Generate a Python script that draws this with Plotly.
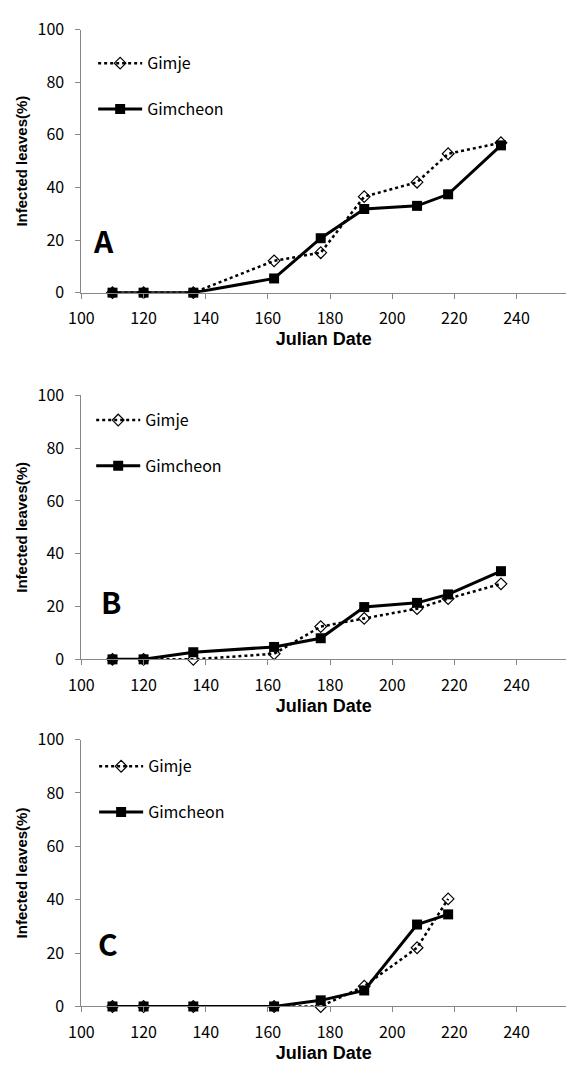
import plotly.graph_objects as go

# ---------------- data ----------------
days_ab = [110, 120, 136, 162, 177, 191, 208, 218, 235]
days_c = [110, 120, 136, 162, 177, 191, 208, 218]

gimje_a = [0, 0, 0, 12.1, 15.2, 36.5, 42.0, 52.8, 57.0]
gimcheon_a = [0, 0, 0, 5.4, 20.7, 31.8, 33.0, 37.4, 56.0]

gimje_b = [0, 0, 0, 2.1, 12.4, 15.5, 19.2, 23.0, 28.6]
gimcheon_b = [0, 0, 2.7, 4.7, 8.0, 19.8, 21.4, 24.6, 33.4]

gimje_c = [0, 0, 0, 0, 0, 7.6, 22.0, 40.3]
gimcheon_c = [0, 0, 0, 0, 2.3, 6.0, 30.7, 34.5]

panel_labels = ["A", "B", "C"]
x_ticks = [100, 120, 140, 160, 180, 200, 220, 240]
y_ticks = [0, 20, 40, 60, 80, 100]

# ---------------- layout helpers ----------------
W, H = 576, 1083
def py(px):
    return 1 - px / H

x_dom = [70 / W, 566 / W]
y_doms = [[py(286), py(17)], [py(661), py(391)], [py(1016), py(743)]]
legend_pos = [(82, 34), (80, 399), (83, 753)]
letter_pos = [(107, 20), (109.6, 22), (108.5, 23.7)]

TICK_FONT = dict(family="Noto Sans CJK KR, Noto Sans, sans-serif", size=16, color="black")
TITLE_FONT = dict(family="Liberation Sans, Arial, sans-serif", size=18, color="black", weight="bold")

panels = [
    (days_ab, gimje_a, gimcheon_a),
    (days_ab, gimje_b, gimcheon_b),
    (days_c, gimje_c, gimcheon_c),
]

fig = go.Figure()
layout = {}
annotations = []
for i, (xs, gj, gc) in enumerate(panels):
    n = i + 1
    xa = "x" if n == 1 else f"x{n}"
    ya = "y" if n == 1 else f"y{n}"
    lg = "legend" if n == 1 else f"legend{n}"
    fig.add_trace(go.Scatter(
        x=xs, y=gj, name="Gimje", mode="lines+markers",
        line=dict(color="black", width=2.5, dash="dot"),
        marker=dict(symbol="diamond-open", size=9, color="black", line=dict(width=1.2)),
        xaxis=xa, yaxis=ya, legend=lg, legendgroup=f"gj{n}", cliponaxis=False,
    ))
    fig.add_trace(go.Scatter(
        x=xs, y=gc, name="Gimcheon", mode="lines+markers",
        line=dict(color="black", width=3),
        marker=dict(symbol="square", size=10, color="black"),
        xaxis=xa, yaxis=ya, legend=lg, legendgroup=f"gc{n}", cliponaxis=False,
    ))
    xkey = "xaxis" if n == 1 else f"xaxis{n}"
    ykey = "yaxis" if n == 1 else f"yaxis{n}"
    layout[xkey] = dict(
        domain=x_dom, anchor=ya, range=[100, 256], tickvals=x_ticks,
        showline=True, linecolor="#878787", linewidth=1, showgrid=False, zeroline=False,
        ticks="outside", ticklen=5, tickcolor="#878787", tickfont=TICK_FONT,
        ticklabelstandoff=6,
        title=dict(text="Julian Date", font=TITLE_FONT, standoff=2),
    )
    layout[ykey] = dict(
        domain=y_doms[i], anchor=xa, range=[0, 100], tickvals=y_ticks,
        showline=True, linecolor="#878787", linewidth=1, showgrid=False, zeroline=False,
        ticks="outside", ticklen=5, tickcolor="#878787", tickfont=TICK_FONT,
        ticklabelstandoff=8,
        title=dict(text="Infected leaves(%)", font=dict(TITLE_FONT, size=15), standoff=6),
    )
    lx, ly = legend_pos[i]
    layout[lg] = dict(
        x=lx / W, y=py(ly), xanchor="left", yanchor="top",
        bgcolor="rgba(0,0,0,0)", borderwidth=0,
        font=dict(family="Noto Sans CJK KR, Noto Sans, sans-serif", size=16, color="black"),
        tracegroupgap=22, itemwidth=44,
    )
    ax_, ay_ = letter_pos[i]
    annotations.append(dict(
        x=ax_, y=ay_, xref=xa, yref=ya, text=panel_labels[i], showarrow=False,
        font=dict(family="Noto Sans CJK KR, Noto Sans, sans-serif", size=30, color="black", weight="bold"),
    ))

fig.update_layout(
    width=W, height=H,
    margin=dict(l=0, r=0, t=0, b=0),
    plot_bgcolor="white", paper_bgcolor="white",
    showlegend=True,
    annotations=annotations,
    **layout,
)

fig.write_html(
    "out.html",
    config={"displayModeBar": False},
    post_script="document.body.style.margin='0';document.body.style.overflow='hidden';",
)
